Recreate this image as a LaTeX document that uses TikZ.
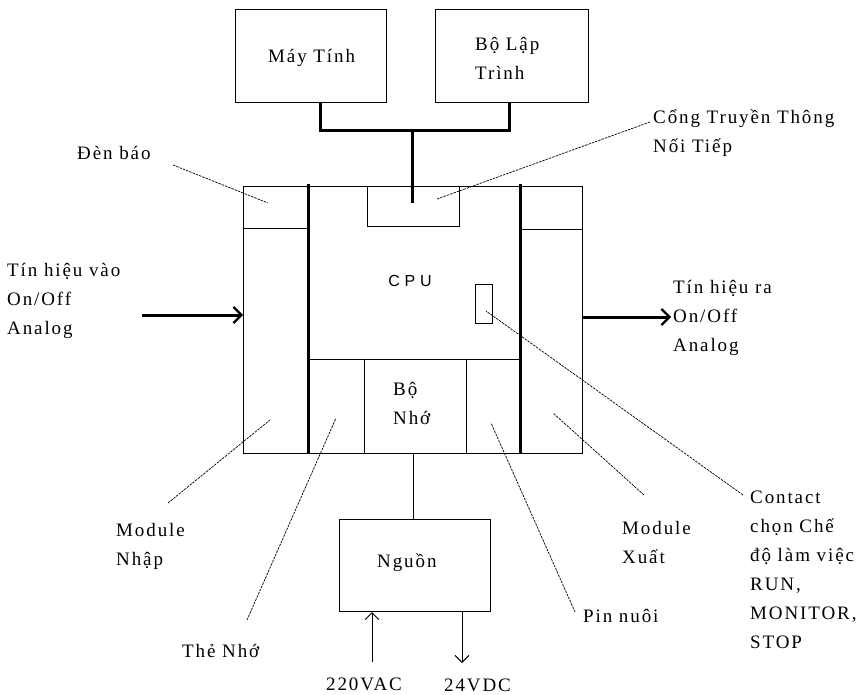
\documentclass[tikz,border=0pt]{standalone}
\usepackage{fontspec}
\setmainfont{Liberation Serif}
\newfontfamily\lblfam{Liberation Serif}[LetterSpace=10]
\newfontfamily\cpufam{Liberation Sans}[LetterSpace=30]
\usetikzlibrary{arrows.meta}
\begin{document}
\begin{tikzpicture}[x=1pt,y=-1pt,
  thinln/.style={line width=0.9pt},
  thickln/.style={line width=3pt},
  leader/.style={line width=0.7pt, dash pattern=on 2.5pt off 1pt},
  lbl/.style={anchor=base west, align=left, inner sep=0pt, font=\lblfam\fontsize{19}{29}\selectfont},
  box/.style={draw, line width=0.9pt, inner sep=0pt},
  barb/.style={-{Straight Barb[length=7pt,width=14pt]}}]
\useasboundingbox (0,0) rectangle (864,695);

% top boxes (multi-line labels are anchored at the baseline of their last line)
\node[box, minimum width=151pt, minimum height=93pt] (pc) at (310.5,55.5) {};
\node[lbl] (pctext) at (268,63) {Máy Tính};
\node[box, minimum width=153pt, minimum height=93pt] (prog) at (511.5,55.5) {};
\node[lbl] (progtext) at (475,80) {Bộ Lập\\Trình};

% bus
\coordinate (pcB) at (320,102);
\coordinate (progB) at (509,102);
\coordinate (busL) at (320,131);
\coordinate (busR) at (509,131);
\coordinate (busM) at (412,131);
\coordinate (portIn) at (412,203);
\draw[thickln] (pcB) -- (busL) -- (busR) -- (progB);
\draw[thickln] (busM) -- (portIn);

% main frame
\draw[thinln] (243,186) rectangle (582,453);
\draw[thinln] (243,228) -- (308,228);
\draw[thinln] (520,229) -- (582,229);
\draw[thinln] (367,186) rectangle (459,226);
\draw[thinln] (308,359) -- (520,359);
\draw[thinln] (364,359) -- (364,453);
\draw[thinln] (466,359) -- (466,453);
\draw[thinln] (475,284) rectangle (492,323);
\draw[thickln] (308,184) -- (308,453);
\draw[thickln] (520,184) -- (520,453);

\node[anchor=base, inner sep=0pt, font=\cpufam\fontsize{16}{20}\selectfont] (cpu) at (410,286) {CPU};
\node[lbl] (mem) at (393,424) {Bộ\\Nhớ};

% power supply
\node[box, minimum width=151pt, minimum height=92pt] (psu) at (414.5,565) {};
\node[lbl] (psutext) at (377,567) {Nguồn};
\coordinate (frameB) at (413,453);
\coordinate (psuT) at (413,519);
\draw[thinln] (frameB) -- (psuT);
\coordinate (acS) at (372,662);
\coordinate (acE) at (372,612);
\coordinate (dcS) at (462,611);
\coordinate (dcE) at (462,663);
\draw[thinln, barb] (acS) -- (acE);
\draw[thinln, barb] (dcS) -- (dcE);
\node[lbl] (ac) at (326,690) {220VAC};
\node[lbl] (dc) at (444,691) {24VDC};

% input / output arrows
\coordinate (inS) at (142,315);
\coordinate (inE) at (243,315);
\coordinate (outS) at (582,317);
\coordinate (outE) at (671,317);
\draw[thickln, -{Straight Barb[length=8pt,width=16pt,line width=2.2pt]}] (inS) -- (inE);
\draw[thickln, -{Straight Barb[length=8pt,width=16pt,line width=2.2pt]}] (outS) -- (outE);
\node[lbl] (inlbl) at (7,334) {Tín hiệu vào\\On/Off\\Analog};
\node[lbl] (outlbl) at (673,351) {Tín hiệu ra\\On/Off\\Analog};

% labels and leaders
\node[lbl] (den) at (77,160) {Đèn báo};
\coordinate (denA) at (173,165);
\coordinate (denB) at (268,203);
\draw[leader] (denA) -- (denB);

\node[lbl] (cong) at (653,153) {Cổng Truyền Thông\\Nối Tiếp};
\coordinate (congA) at (650,122);
\coordinate (congB) at (437,199);
\draw[leader] (congA) -- (congB);

\node[lbl] (modin) at (116,565) {Module\\Nhập};
\coordinate (modinA) at (168,503);
\coordinate (modinB) at (270,420);
\draw[leader] (modinA) -- (modinB);

\node[lbl] (the) at (182,657) {Thẻ Nhớ};
\coordinate (theA) at (247,620);
\coordinate (theB) at (336,418);
\draw[leader] (theA) -- (theB);

\node[lbl] (pin) at (583,622) {Pin nuôi};
\coordinate (pinA) at (575,612);
\coordinate (pinB) at (491,423);
\draw[leader] (pinA) -- (pinB);

\node[lbl] (modout) at (622,563) {Module\\Xuất};
\coordinate (modoutA) at (644,495);
\coordinate (modoutB) at (553,413);
\draw[leader] (modoutA) -- (modoutB);

\node[lbl] (contact) at (750,648) {Contact\\chọn Chế\\độ làm việc\\RUN,\\MONITOR,\\STOP};
\coordinate (contactA) at (743,495);
\coordinate (contactB) at (486,311);
\draw[leader] (contactA) -- (contactB);
\end{tikzpicture}
\end{document}
